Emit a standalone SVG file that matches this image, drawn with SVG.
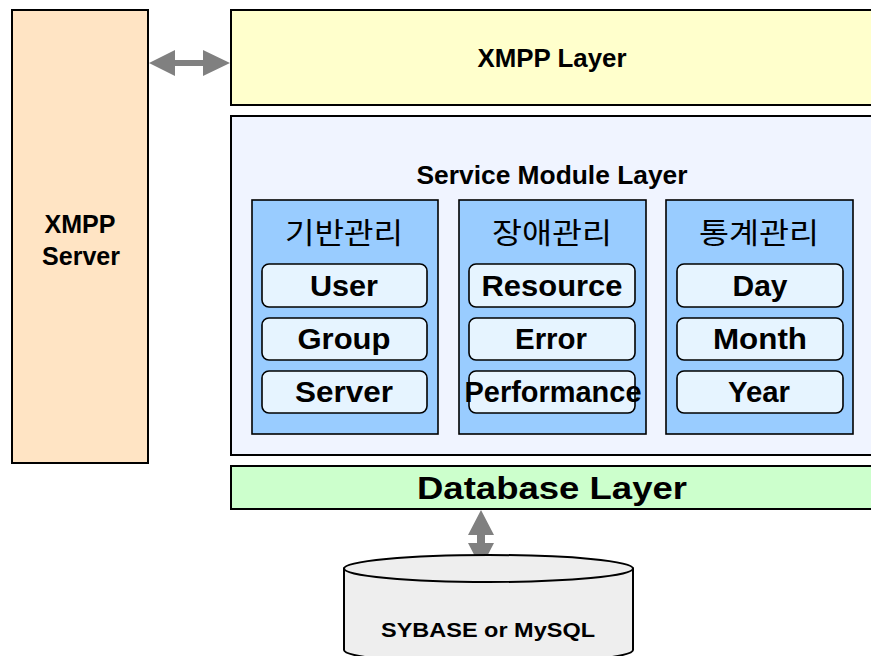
<svg xmlns="http://www.w3.org/2000/svg" width="871" height="656" viewBox="0 0 871 656">
<style>
  .box { stroke: #000; stroke-width: 2; }
  .inner { fill: #E6F4FF; stroke: #000; stroke-width: 1.6; }
  .col { fill: #99CCFF; stroke: #000; stroke-width: 1.6; }
  .t { font-family: "Liberation Sans", Arial, sans-serif; font-weight: bold; fill: #000; text-anchor: middle; }
  .k { font-family: "Noto Sans CJK KR", sans-serif; font-weight: normal; fill: #000; text-anchor: middle; font-size: 29px; }
  .it { font-size: 29px; }
  .arrow { fill: #808080; stroke: none; }
</style>
<rect x="0" y="0" width="871" height="656" fill="#FFFFFF"/>

<g id="xmpp-server">
  <rect class="box" x="12" y="10" width="136" height="453" fill="#FFE4C4"/>
  <text class="t" x="80" y="233" font-size="25" textLength="71" lengthAdjust="spacingAndGlyphs">XMPP</text>
  <text class="t" x="81" y="265" font-size="25" textLength="78" lengthAdjust="spacingAndGlyphs">Server</text>
</g>

<g id="xmpp-layer">
  <rect class="box" x="231" y="10" width="660" height="95" fill="#FFFFCC"/>
  <text class="t" x="552" y="67" font-size="25" textLength="149" lengthAdjust="spacingAndGlyphs">XMPP Layer</text>
</g>

<g id="service-module-layer">
  <rect class="box" x="231" y="116" width="660" height="339" fill="#F0F4FF"/>
  <text class="t" x="552" y="184" font-size="25" textLength="271" lengthAdjust="spacingAndGlyphs">Service Module Layer</text>
</g>

<g id="col-base">
  <rect class="col" x="252" y="200" width="186" height="234"/>
  <text class="k" x="344" y="244" textLength="118" lengthAdjust="spacingAndGlyphs">기반관리</text>
  <g id="user">
    <rect class="inner" x="262" y="264" width="165" height="43" rx="7"/>
    <text class="t it" x="344" y="296" textLength="68" lengthAdjust="spacingAndGlyphs">User</text>
  </g>
  <g id="group">
    <rect class="inner" x="262" y="318" width="165" height="42" rx="7"/>
    <text class="t it" x="344" y="349" textLength="93" lengthAdjust="spacingAndGlyphs">Group</text>
  </g>
  <g id="server">
    <rect class="inner" x="262" y="371" width="165" height="42" rx="7"/>
    <text class="t it" x="344" y="402" textLength="98" lengthAdjust="spacingAndGlyphs">Server</text>
  </g>
</g>

<g id="col-fault">
  <rect class="col" x="459" y="200" width="187" height="234"/>
  <text class="k" x="552" y="244" textLength="120" lengthAdjust="spacingAndGlyphs">장애관리</text>
  <g id="resource">
    <rect class="inner" x="469" y="264" width="166" height="43" rx="7"/>
    <text class="t it" x="552" y="296" textLength="141" lengthAdjust="spacingAndGlyphs">Resource</text>
  </g>
  <g id="error">
    <rect class="inner" x="469" y="318" width="166" height="42" rx="7"/>
    <text class="t it" x="551" y="349" textLength="72" lengthAdjust="spacingAndGlyphs">Error</text>
  </g>
  <g id="performance">
    <rect class="inner" x="469" y="371" width="166" height="42" rx="7"/>
    <text class="t it" x="553" y="402" textLength="177" lengthAdjust="spacingAndGlyphs">Performance</text>
  </g>
</g>

<g id="col-stat">
  <rect class="col" x="666" y="200" width="187" height="234"/>
  <text class="k" x="759" y="244" textLength="120" lengthAdjust="spacingAndGlyphs">통계관리</text>
  <g id="day">
    <rect class="inner" x="677" y="264" width="166" height="43" rx="7"/>
    <text class="t it" x="760" y="296" textLength="55" lengthAdjust="spacingAndGlyphs">Day</text>
  </g>
  <g id="month">
    <rect class="inner" x="677" y="318" width="166" height="42" rx="7"/>
    <text class="t it" x="760" y="349" textLength="94" lengthAdjust="spacingAndGlyphs">Month</text>
  </g>
  <g id="year">
    <rect class="inner" x="677" y="371" width="166" height="42" rx="7"/>
    <text class="t it" x="759" y="402" textLength="62" lengthAdjust="spacingAndGlyphs">Year</text>
  </g>
</g>

<g id="database-layer">
  <rect class="box" x="231" y="466" width="660" height="43" fill="#CCFFCC"/>
  <text class="t" x="552" y="499" font-size="31" textLength="270" lengthAdjust="spacingAndGlyphs">Database Layer</text>
</g>

<g id="connectors">
  <polygon class="arrow" points="149,63 175,50 175,60 203,60 203,50 230,63 203,76 203,66 175,66 175,76"/>
  <polygon class="arrow" points="481,510 494,535 485,535 485,543 494,543 481,568 468,543 477,543 477,535 468,535"/>
</g>

<g id="database">
  <path d="M344,568.5 L344,650 A144.5,13.5 0 0 0 633,650 L633,568.5 Z" fill="#EEEEEE" stroke="#000" stroke-width="2"/>
  <ellipse cx="488.5" cy="568.5" rx="144.5" ry="13.5" fill="#EEEEEE" stroke="#000" stroke-width="2"/>
  <text class="t" x="488" y="637" font-size="21" textLength="214" lengthAdjust="spacingAndGlyphs">SYBASE or MySQL</text>
</g>
</svg>
